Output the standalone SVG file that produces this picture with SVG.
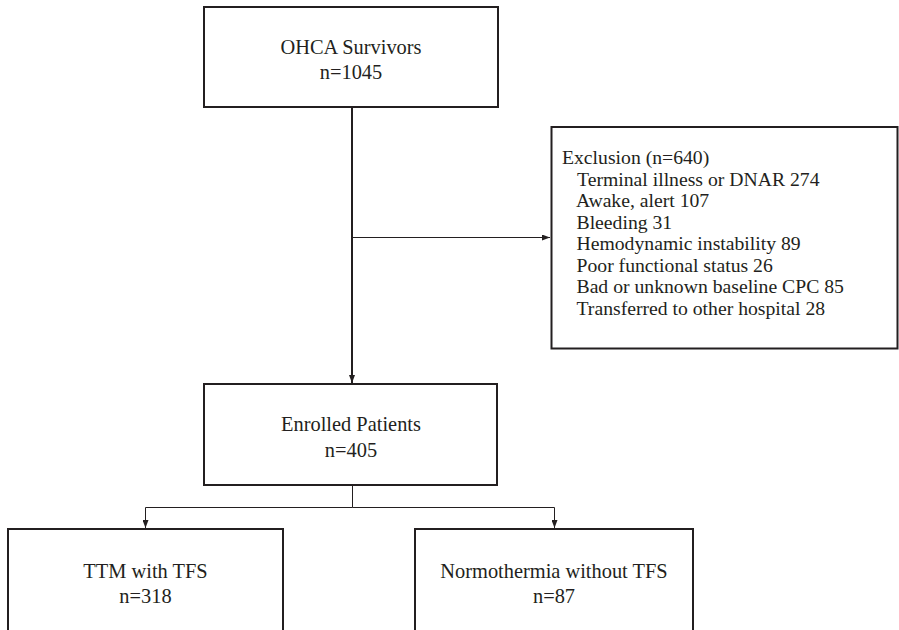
<svg xmlns="http://www.w3.org/2000/svg" width="899" height="630" viewBox="0 0 899 630">
<style>
.box{fill:#fff;stroke:#231f20;stroke-width:2}
.t{font-family:"Liberation Serif","Times New Roman",serif;font-size:20.4px;fill:#231f20;text-anchor:middle}
.e{font-family:"Liberation Serif","Times New Roman",serif;font-size:19.7px;fill:#231f20}
.c{fill:none;stroke:#231f20;stroke-width:1}
.m{fill:none;stroke:#231f20;stroke-width:2}
</style>
<defs>
<marker id="ah" viewBox="0 0 8 6" refX="8" refY="3" markerWidth="8" markerHeight="6" markerUnits="userSpaceOnUse" orient="auto">
<path d="M0,0 L8,3 L0,6 z" fill="#231f20"/>
</marker>
</defs>
<rect width="899" height="630" fill="#fff"/>
<g id="connectors">
<line class="m" x1="352" y1="107" x2="352" y2="383" marker-end="url(#ah)"/>
<line class="c" x1="352" y1="237.5" x2="550" y2="237.5" marker-end="url(#ah)"/>
<polyline class="c" points="352.5,485 352.5,507.5 145.5,507.5 145.5,528" marker-end="url(#ah)"/>
<polyline class="c" points="352.5,507.5 554.5,507.5 554.5,528" marker-end="url(#ah)"/>
</g>
<g id="ohca">
<rect class="box" x="204" y="7" width="294" height="100"/>
<text class="t" x="351" y="54">OHCA Survivors</text>
<text class="t" x="351" y="79">n=1045</text>
</g>
<g id="exclusion">
<rect class="box" x="551.5" y="127" width="346" height="221.5"/>
<text class="e" x="562" y="164">Exclusion (n=640)</text>
<text class="e" x="577" y="185.5">Terminal illness or DNAR 274</text>
<text class="e" x="576" y="207">Awake, alert 107</text>
<text class="e" x="576.5" y="228.5">Bleeding 31</text>
<text class="e" x="576.5" y="250">Hemodynamic instability 89</text>
<text class="e" x="576.5" y="271.5">Poor functional status 26</text>
<text class="e" x="576.5" y="293">Bad or unknown baseline CPC 85</text>
<text class="e" x="576.5" y="314.5">Transferred to other hospital 28</text>
</g>
<g id="enrolled">
<rect class="box" x="204" y="384" width="293" height="101"/>
<text class="t" x="351" y="431">Enrolled Patients</text>
<text class="t" x="351" y="457">n=405</text>
</g>
<g id="ttm">
<rect class="box" x="8" y="529" width="275" height="110"/>
<text class="t" x="145.5" y="578">TTM with TFS</text>
<text class="t" x="145.5" y="603">n=318</text>
</g>
<g id="normo">
<rect class="box" x="415" y="529" width="278" height="110"/>
<text class="t" x="554" y="578">Normothermia without TFS</text>
<text class="t" x="554" y="603">n=87</text>
</g>
</svg>
